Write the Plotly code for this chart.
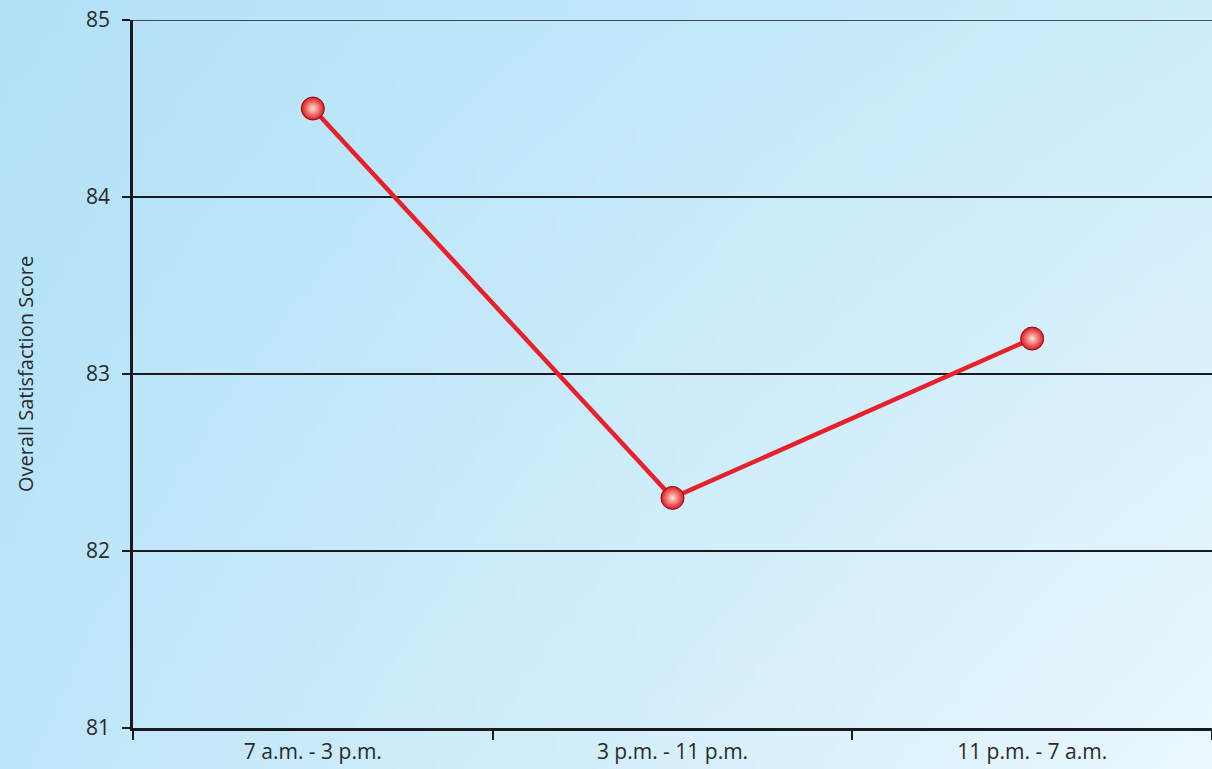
import base64, struct, zlib
import plotly.graph_objects as go

# ---- data ----
shifts = ["7 a.m. - 3 p.m.", "3 p.m. - 11 p.m.", "11 p.m. - 7 a.m."]
scores = [84.5, 82.3, 83.2]
y_ticks = [81, 82, 83, 84, 85]
y_title = "Overall Satisfaction Score"

# ---- background gradient image (bilinear between corner colours) ----
W, H = 121, 77
TL, TR, BL, BR = (178, 225, 248), (205, 237, 251), (190, 230, 249), (234, 247, 253)

def make_png(w, h):
    raw = bytearray()
    for j in range(h):
        v = j / (h - 1)
        raw.append(0)
        for i in range(w):
            u = i / (w - 1)
            for k in range(3):
                top = TL[k] * (1 - u) + TR[k] * u
                bot = BL[k] * (1 - u) + BR[k] * u
                raw.append(int(round(top * (1 - v) + bot * v)))
    def chunk(t, d):
        c = struct.pack(">I", len(d)) + t + d
        return c + struct.pack(">I", zlib.crc32(t + d) & 0xffffffff)
    png = b"\x89PNG\r\n\x1a\n"
    png += chunk(b"IHDR", struct.pack(">IIBBBBB", w, h, 8, 2, 0, 0, 0))
    png += chunk(b"IDAT", zlib.compress(bytes(raw), 9))
    png += chunk(b"IEND", b"")
    return "data:image/png;base64," + base64.b64encode(png).decode()

FIG_W, FIG_H = 1212, 769
ML, MR, MT, MB = 133, 0, 20, 41
PW, PH = FIG_W - ML - MR, FIG_H - MT - MB

fig = go.Figure()
fig.add_trace(go.Scatter(
    x=shifts, y=scores, mode="lines+markers",
    line=dict(color="#e8202a", width=4.5),
    marker=dict(size=23, color="#e0161e",
                gradient=dict(type="radial", color="#ffe0d4"),
                line=dict(color="#8c0c0c", width=1)),
    hoverinfo="x+y", showlegend=False,
))

fig.update_layout(
    width=FIG_W, height=FIG_H,
    margin=dict(l=ML, r=MR, t=MT, b=MB, pad=0),
    paper_bgcolor="rgba(0,0,0,0)", plot_bgcolor="rgba(0,0,0,0)",
    font=dict(family="Open Sans, sans-serif", color="#2a2a2a", size=21),
    images=[dict(source=make_png(W, H), xref="paper", yref="paper",
                 x=-ML / PW, y=1 + MT / PH, sizex=FIG_W / PW, sizey=FIG_H / PH,
                 xanchor="left", yanchor="top", sizing="stretch", layer="below")],
    shapes=[dict(type="line", xref="paper", yref="y", x0=0, x1=1,
                 y0=y_ticks[-1], y1=y_ticks[-1],
                 line=dict(color="#1a1a1a", width=1.5), layer="above")],
)
fig.update_xaxes(
    type="category", range=[-0.5, 2.5], showgrid=False,
    showline=True, linecolor="#1a1a1a", linewidth=2.5,
    ticks="outside", tickson="boundaries", ticklen=9, tickwidth=2, tickcolor="#1a1a1a",
    tickfont=dict(size=21), ticklabelstandoff=3, fixedrange=True,
)
fig.update_yaxes(
    range=[81, 85], tickvals=y_ticks, ticktext=[str(t) for t in y_ticks],
    showgrid=True, gridcolor="#1a1a1a", gridwidth=1.5,
    showline=True, linecolor="#1a1a1a", linewidth=2.5,
    ticks="outside", ticklen=8, tickwidth=2, tickcolor="#1a1a1a",
    tickfont=dict(size=21), ticklabelstandoff=8, zeroline=False,
    title=dict(text=y_title, font=dict(size=20, color="#2a2a2a"), standoff=48),
)

fig.write_html("out.html")
